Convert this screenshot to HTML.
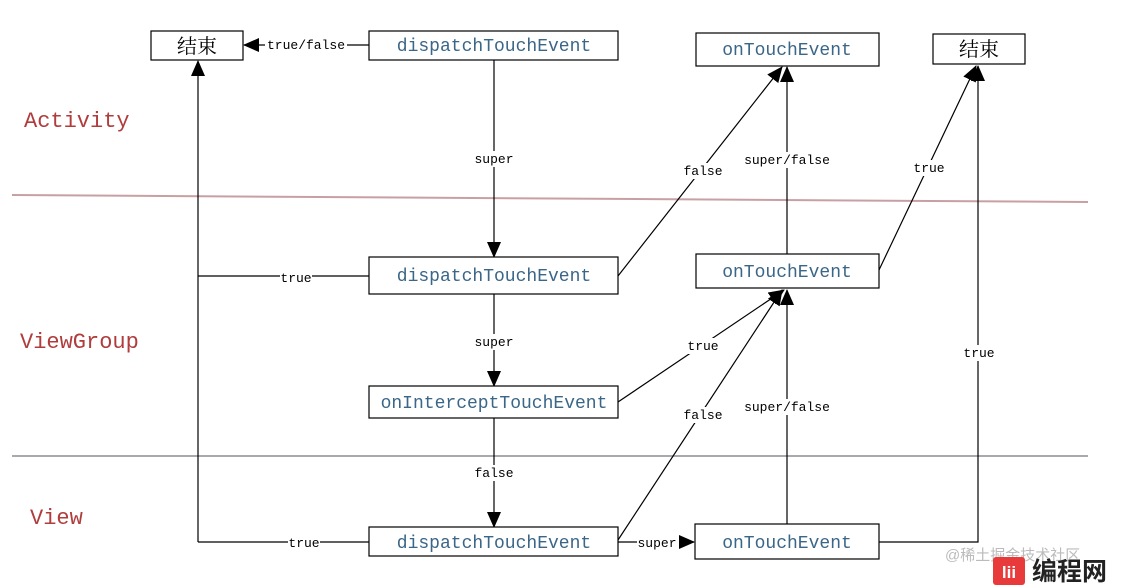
<!DOCTYPE html>
<html><head><meta charset="utf-8"><style>
html,body{margin:0;padding:0;background:#fff;width:1123px;height:585px;overflow:hidden}
svg{display:block}
.bx{fill:#fff;stroke:#000;stroke-width:1.2}
.bt{font-family:"Liberation Mono","Noto Serif CJK SC",monospace;font-size:18px;fill:#3a6688;text-anchor:middle}
.cn{font-family:"Liberation Serif","Noto Serif CJK SC",serif;font-size:20px;fill:#000;text-anchor:middle}
.lb{font-family:"Liberation Mono",monospace;font-size:13px;fill:#000;text-anchor:middle}
.ln{stroke:#000;stroke-width:1.2;fill:none}
.lay{font-family:"Liberation Mono",monospace;font-size:22px;fill:#b03c3c}
.bg{fill:#fff}
</style></head><body>
<svg width="1123" height="585" viewBox="0 0 1123 585">
<defs><marker id="a" markerWidth="16" markerHeight="16" refX="15" refY="7" orient="auto" markerUnits="userSpaceOnUse"><path d="M0,0L16,7L0,14z" fill="#000"/></marker></defs>
<line x1="12" y1="195" x2="1088" y2="202" stroke="#c8a0a4" stroke-width="2"/>
<line x1="12" y1="456" x2="1088" y2="456" stroke="#a8a8b0" stroke-width="2"/>
<text class="lay" x="24" y="127">Activity</text>
<text class="lay" x="20" y="348">ViewGroup</text>
<text class="lay" x="30" y="524">View</text>

<line class="ln" x1="369" y1="45" x2="244" y2="45" marker-end="url(#a)"/>
<line class="ln" x1="494" y1="60" x2="494" y2="257" marker-end="url(#a)"/>
<line class="ln" x1="198" y1="542" x2="198" y2="61" marker-end="url(#a)"/>
<polyline class="ln" points="369,276 198,276"/>
<polyline class="ln" points="369,542 198,542"/>
<line class="ln" x1="494" y1="294" x2="494" y2="386" marker-end="url(#a)"/>
<line class="ln" x1="494" y1="418" x2="494" y2="527" marker-end="url(#a)"/>
<line class="ln" x1="618" y1="276" x2="782" y2="67" marker-end="url(#a)"/>
<line class="ln" x1="787" y1="254" x2="787" y2="67" marker-end="url(#a)"/>
<line class="ln" x1="879" y1="270" x2="976" y2="66" marker-end="url(#a)"/>
<line class="ln" x1="618" y1="402" x2="784" y2="290" marker-end="url(#a)"/>
<line class="ln" x1="618" y1="540" x2="782" y2="290" marker-end="url(#a)"/>
<line class="ln" x1="787" y1="524" x2="787" y2="290" marker-end="url(#a)"/>
<polyline class="ln" points="879,542 978,542 978,66" marker-end="url(#a)"/>
<line class="ln" x1="618" y1="542" x2="694" y2="542" marker-end="url(#a)"/>

<g>
<rect class="bg" x="265" y="37" width="82" height="16"/><text class="lb" x="306" y="49">true/false</text>
<rect class="bg" x="474" y="151" width="40" height="16"/><text class="lb" x="494" y="163">super</text>
<rect class="bg" x="280" y="270" width="32" height="16"/><text class="lb" x="296" y="282">true</text>
<rect class="bg" x="288" y="535" width="32" height="16"/><text class="lb" x="304" y="547">true</text>
<rect class="bg" x="474" y="334" width="40" height="16"/><text class="lb" x="494" y="346">super</text>
<rect class="bg" x="474" y="465" width="40" height="16"/><text class="lb" x="494" y="477">false</text>
<rect class="bg" x="682" y="163" width="42" height="16"/><text class="lb" x="703" y="175">false</text>
<rect class="bg" x="743" y="152" width="88" height="16"/><text class="lb" x="787" y="164">super/false</text>
<rect class="bg" x="912" y="160" width="34" height="16"/><text class="lb" x="929" y="172">true</text>
<rect class="bg" x="686" y="338" width="34" height="16"/><text class="lb" x="703" y="350">true</text>
<rect class="bg" x="682" y="407" width="42" height="16"/><text class="lb" x="703" y="419">false</text>
<rect class="bg" x="743" y="399" width="88" height="16"/><text class="lb" x="787" y="411">super/false</text>
<rect class="bg" x="962" y="345" width="34" height="16"/><text class="lb" x="979" y="357">true</text>
<rect class="bg" x="637" y="535" width="42" height="16"/><text class="lb" x="657" y="547">super</text>
</g>

<rect class="bx" x="151" y="31" width="92" height="29"/><text class="cn" x="197" y="53">结束</text>
<rect class="bx" x="369" y="31" width="249" height="29"/><text class="bt" x="494" y="51">dispatchTouchEvent</text>
<rect class="bx" x="696" y="33" width="183" height="33"/><text class="bt" x="787" y="55">onTouchEvent</text>
<rect class="bx" x="933" y="34" width="92" height="30"/><text class="cn" x="979" y="56">结束</text>
<rect class="bx" x="369" y="257" width="249" height="37"/><text class="bt" x="494" y="281">dispatchTouchEvent</text>
<rect class="bx" x="696" y="254" width="183" height="34"/><text class="bt" x="787" y="277">onTouchEvent</text>
<rect class="bx" x="369" y="386" width="249" height="32"/><text class="bt" x="494" y="408">onInterceptTouchEvent</text>
<rect class="bx" x="369" y="527" width="249" height="29"/><text class="bt" x="494" y="548">dispatchTouchEvent</text>
<rect class="bx" x="695" y="524" width="184" height="35"/><text class="bt" x="787" y="548">onTouchEvent</text>

<text x="945" y="560" font-family="Liberation Sans,Noto Sans CJK SC,sans-serif" font-size="15" fill="#bbb">@稀土掘金技术社区</text>
<rect x="993" y="557" width="32" height="28" rx="3" fill="#e83a3a"/>
<text x="1009" y="578" font-family="Liberation Sans,sans-serif" font-size="17" font-weight="bold" fill="#fff" text-anchor="middle">lii</text>
<text x="1032" y="580" font-family="Liberation Sans,Noto Sans CJK SC,sans-serif" font-size="25" font-weight="bold" fill="#222">编程网</text>
</svg>
</body></html>
